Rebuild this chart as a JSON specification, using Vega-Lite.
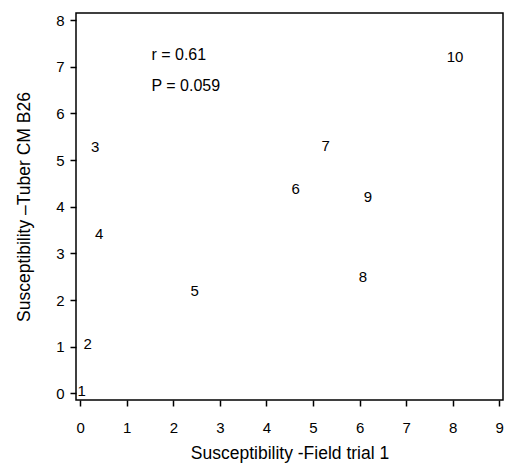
{
  "$schema": "https://vega.github.io/schema/vega-lite/v6.json",
  "width": 427,
  "height": 387,
  "autosize": {"type": "none"},
  "padding": {"left": 76, "top": 13, "right": 2, "bottom": 63},
  "background": "white",
  "config": {
    "font": "Liberation Sans",
    "view": {"stroke": "black", "strokeWidth": 1.5},
    "axis": {
      "grid": false,
      "domain": false,
      "tickColor": "black",
      "tickSize": 6,
      "tickWidth": 1.5,
      "labelColor": "black",
      "titleColor": "black",
      "labelFontSize": 15,
      "titleFontSize": 17.5,
      "titleFontWeight": "normal",
      "labelFont": "Liberation Sans",
      "titleFont": "Liberation Sans"
    }
  },
  "datasets": {
    "points": [
      {"field": 0.03, "tuber": 0.06, "label": "1"},
      {"field": 0.16, "tuber": 1.07, "label": "2"},
      {"field": 0.32, "tuber": 5.29, "label": "3"},
      {"field": 0.41, "tuber": 3.42, "label": "4"},
      {"field": 2.46, "tuber": 2.2, "label": "5"},
      {"field": 4.63, "tuber": 4.39, "label": "6"},
      {"field": 5.27, "tuber": 5.31, "label": "7"},
      {"field": 6.07, "tuber": 2.5, "label": "8"},
      {"field": 6.18, "tuber": 4.2, "label": "9"},
      {"field": 8.05, "tuber": 7.2, "label": "10"}
    ],
    "notes": [
      {"field": 1.53, "tuber": 7.24, "text": "r = 0.61"},
      {"field": 1.53, "tuber": 6.59, "text": "P = 0.059"}
    ]
  },
  "layer": [
    {
      "data": {"name": "points"},
      "mark": {"type": "text", "fontSize": 15, "color": "black", "align": "center", "baseline": "middle"},
      "encoding": {
        "x": {
          "field": "field", "type": "quantitative",
          "scale": {"domain": [-0.09, 9.08], "nice": false, "zero": false},
          "axis": {"values": [0,1,2,3,4,5,6,7,8,9], "labelPadding": 14, "title": "Susceptibility -Field trial 1", "titlePadding": 9, "labelFlush": false}
        },
        "y": {
          "field": "tuber", "type": "quantitative",
          "scale": {"domain": [-0.14, 8.15], "nice": false, "zero": false},
          "axis": {"values": [0,1,2,3,4,5,6,7,8], "labelPadding": 6, "title": "Susceptibility \u2013Tuber CM B26", "titlePadding": 22, "labelFlush": false}
        },
        "text": {"field": "label"}
      }
    },
    {
      "data": {"name": "notes"},
      "mark": {"type": "text", "fontSize": 16, "color": "black", "align": "left", "baseline": "middle"},
      "encoding": {
        "x": {"field": "field", "type": "quantitative"},
        "y": {"field": "tuber", "type": "quantitative"},
        "text": {"field": "text"}
      }
    }
  ]
}
